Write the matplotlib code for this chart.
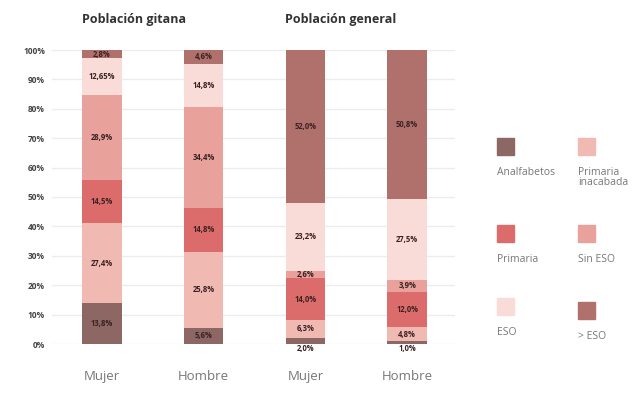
import numpy as np
import matplotlib
matplotlib.use('Agg')
import matplotlib.pyplot as plt
from matplotlib.patches import Rectangle

plt.rcParams['font.family'] = ['Open Sans', 'DejaVu Sans']

groups = ['Población gitana', 'Población general']
bars = ['Mujer', 'Hombre', 'Mujer', 'Hombre']
levels = ['Analfabetos', 'Primaria\ninacabada', 'Primaria', 'Sin ESO', 'ESO', '> ESO']
colors = ['#8d6764', '#f0bab3', '#dc6c6b', '#e9a29b', '#f9dcd8', '#b0716c']

analfabetos = [13.8, 5.6, 2.0, 1.0]
prim_inacabada = [27.4, 25.8, 6.3, 4.8]
primaria = [14.5, 14.8, 14.0, 12.0]
sin_eso = [28.9, 34.4, 2.6, 3.9]
eso = [12.65, 14.8, 23.2, 27.5]
mas_eso = [2.8, 4.6, 52.0, 50.8]
labels = [
    ['13,8%', '5,6%', '2,0%', '1,0%'],
    ['27,4%', '25,8%', '6,3%', '4,8%'],
    ['14,5%', '14,8%', '14,0%', '12,0%'],
    ['28,9%', '34,4%', '2,6%', '3,9%'],
    ['12,65%', '14,8%', '23,2%', '27,5%'],
    ['2,8%', '4,6%', '52,0%', '50,8%'],
]
series = [analfabetos, prim_inacabada, primaria, sin_eso, eso, mas_eso]

fig = plt.figure(figsize=(6.4, 4.09), dpi=100)
ax = fig.add_axes([52 / 640, 1 - 344 / 409, 403 / 640, 294 / 409])

x = np.arange(len(bars))
bottom = np.zeros(len(bars))
for vals, col, labs in zip(series, colors, labels):
    vals = np.array(vals)
    # clip so stacks don't exceed 100
    top = np.minimum(bottom + vals, 100)
    h = top - bottom
    ax.bar(x, h, 0.39, bottom=bottom, color=col, zorder=2)
    for i in range(len(bars)):
        if vals[i] < 2.5:
            ax.text(x[i], -1.6, labs[i], ha='center', va='center', fontsize=5.5,
                    fontweight='bold', color='#3a2222')
        else:
            ax.text(x[i], bottom[i] + h[i] / 2, labs[i], ha='center', va='center',
                    fontsize=5.5, fontweight='bold', color='#3a2222', zorder=3)
    bottom = top

ax.set_xlim(-0.49, 3.47)
ax.set_ylim(0, 100)
ax.set_yticks(np.arange(0, 101, 10))
ax.set_yticklabels([f'{v}%' for v in range(0, 101, 10)], fontsize=6, fontweight='bold',
                   color='#444444')
ax.set_xticks([])
ax.grid(axis='y', color='#ececf0', lw=1, zorder=0)
for s in ax.spines.values():
    s.set_visible(False)
ax.tick_params(axis='y', length=0, pad=5)

for i, name in enumerate(bars):
    ax.text(x[i], -11, name, ha='center', va='center', fontsize=9.5, color='#777777')

fig.text(134 / 640, 1 - 19 / 409, groups[0], ha='center', va='center', fontsize=9,
         fontweight='bold', color='#333333')
fig.text(341 / 640, 1 - 19 / 409, groups[1], ha='center', va='center', fontsize=9,
         fontweight='bold', color='#333333')

# legend
leg_pos = [(497, 138), (578, 138), (497, 225), (578, 225), (497, 298), (578, 302)]
for (px, py), name, col in zip(leg_pos, levels, colors):
    fig.patches.append(Rectangle((px / 640, 1 - (py + 17) / 409), 17 / 640, 17 / 409,
                                 transform=fig.transFigure, color=col))
    fig.text(px / 640, 1 - (py + 29) / 409, name, ha='left', va='top', fontsize=7.5,
             color='#777777', linespacing=0.85)

fig.savefig('out.png', dpi=100)
